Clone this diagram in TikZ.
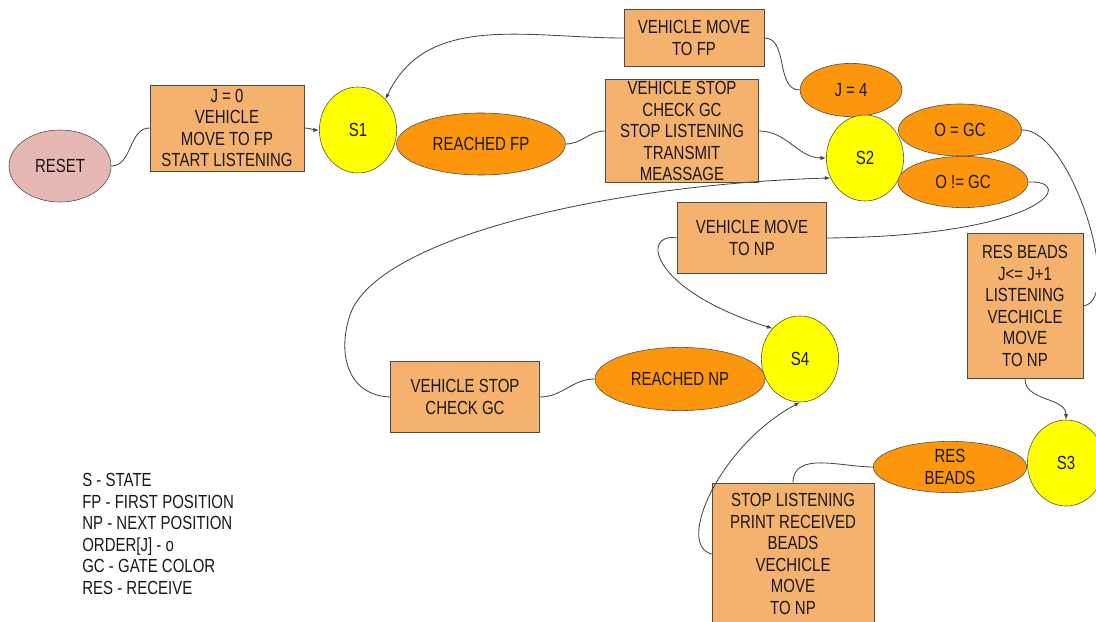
\documentclass[tikz,border=0pt]{standalone}
\usepackage{fontspec}
\setmainfont{Liberation Sans}[FakeStretch=0.79]
\usepackage{xcolor}
\usetikzlibrary{shapes.geometric, arrows.meta, positioning}

\definecolor{boxfill}{RGB}{245,177,110}
\definecolor{evfill}{RGB}{252,150,12}
\definecolor{stfill}{RGB}{255,255,0}
\definecolor{resetfill}{RGB}{229,184,180}
\definecolor{linegray}{RGB}{70,70,70}

\begin{document}
\begin{tikzpicture}[
    x=0.025cm, y=-0.025cm,
    every node/.style={font=\fontsize{13.5}{15.3}\selectfont, text=black!90},
    box/.style={rectangle, draw=black!70, fill=boxfill, align=center, inner sep=0pt},
    state/.style={ellipse, draw=black!70, fill=stfill, minimum width=1.93cm, minimum height=2.15cm, inner sep=0pt},
    event/.style={ellipse, draw=black!70, fill=evfill, align=center, inner sep=0pt},
    lnk/.style={linegray, line width=0.6pt},
    arr/.style={lnk, -{Latex[length=4pt,width=3pt]}}
]
\useasboundingbox (0,0) rectangle (1096,622);

% Start
\node[ellipse, draw=black!70, fill=resetfill, minimum width=2.55cm, minimum height=1.8cm] (reset) at (60,166) {RESET};
\node[box, minimum width=3.85cm, minimum height=2.15cm] (init) at (227,128) {J = 0\\VEHICLE\\MOVE TO FP\\START LISTENING};

% State S1
\node[state] (s1) at (358,130) {S1};
\node[event, minimum width=4.22cm, minimum height=1.55cm] (reachfp) at (481,144) {REACHED FP};
\node[box, minimum width=3.5cm, minimum height=1.43cm] (movefp) at (694,38) {VEHICLE MOVE\\TO FP};
\node[box, minimum width=3.83cm, minimum height=2.58cm] (stopfp) at (682,131) {VEHICLE STOP\\CHECK GC\\STOP LISTENING\\TRANSMIT\\MEASSAGE};

% State S2
\node[event, minimum width=2.55cm, minimum height=1.33cm] (jfour) at (851,90) {J = 4};
\node[state] (s2) at (865,158) {S2};
\node[event, minimum width=3.08cm, minimum height=1.3cm] (oeq) at (960,130) {O = GC};
\node[event, minimum width=3.25cm, minimum height=1.28cm] (oneq) at (963,182) {O != GC};
\node[box, minimum width=3.73cm, minimum height=1.78cm] (movenp) at (752,238) {VEHICLE MOVE\\TO NP};
\node[box, minimum width=2.9cm, minimum height=3.63cm] (resbox) at (1025,306) {RES BEADS\\J<= J+1\\LISTENING\\VECHICLE\\MOVE\\TO NP};

% State S4
\node[state] (s4) at (800,359) {S4};
\node[event, minimum width=4.25cm, minimum height=1.58cm] (reachnp) at (680,379) {REACHED NP};
\node[box, minimum width=3.73cm, minimum height=1.78cm] (stopnp) at (465,397) {VEHICLE STOP\\CHECK GC};

% State S3
\node[state] (s3) at (1066,463) {S3};
\node[event, minimum width=3.83cm, minimum height=1.28cm] (resev) at (950,467) {RES\\BEADS};
\node[box, minimum width=4.05cm, minimum height=3.55cm] (stopres) at (793,554) {STOP LISTENING\\PRINT RECEIVED\\BEADS\\VECHICLE\\MOVE\\TO NP};

% Legend
\node[align=left, anchor=north west, inner sep=0pt] (legend) at (82,473) {S - STATE\\FP - FIRST POSITION\\NP - NEXT POSITION\\ORDER[J] - o\\GC - GATE COLOR\\RES - RECEIVE};

% Connectors
\draw[lnk] (reset.east) to[out=0,in=180] (init.west);
\draw[arr] (init.east) to[out=0,in=180] (s1.west);
\draw[lnk] (reachfp.east) to[out=0,in=180] (stopfp.west);
\draw[arr] (stopfp.east) to[out=0,in=180] (s2.west);
\draw[lnk] (movefp.east) to[out=0,in=180] (jfour.west);
\draw[arr] (movefp.west) to[out=180,in=65] (s1.north east);
\draw[lnk] (oeq.east) .. controls (1070,128) and (1125,300) .. (resbox.east);
\draw[lnk] (oneq.east) .. controls (1078,180) and (1045,236) .. (movenp.east);
\draw[arr] (movenp.west) .. controls (640,232) and (650,290) .. (s4.north west);
\draw[lnk] (reachnp.west) to[out=180,in=0] (stopnp.east);
\draw[arr] (stopnp.west) .. controls (345,395) and (338,350) .. (350,315) .. controls (375,240) and (600,185) .. (s2.210);
\draw[arr] (stopres.west) .. controls (675,545) and (720,445) .. (s4.south);
\draw[lnk] (resev.west) to[out=180,in=90] (stopres.north);
\draw[arr] (resbox.south) to[out=-90,in=90] (s3.north);

\end{tikzpicture}
\end{document}
